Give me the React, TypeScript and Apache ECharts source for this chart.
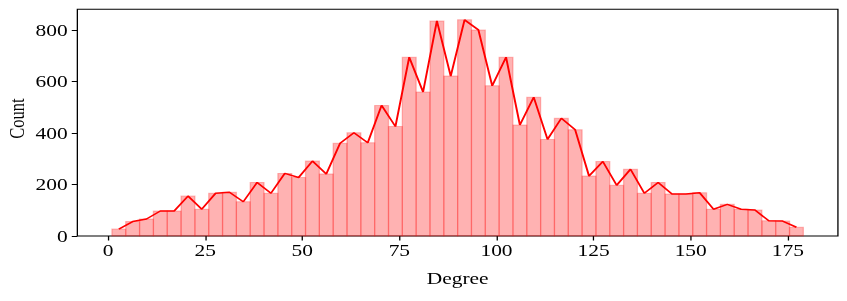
import React, { useEffect, useRef } from "react";
import * as echarts from "echarts";

// Histogram of degrees: 50 equal bins from 1 to 179
const binStart = 1;
const binEnd = 179;
const counts = [
  27, 56, 66, 97, 97, 155, 104, 166, 170, 133,
  208, 166, 243, 227, 291, 241, 360, 401, 362, 507,
  425, 694, 559, 835, 621, 839, 800, 583, 694, 431,
  539, 375, 457, 412, 233, 289, 197, 259, 166, 208,
  163, 163, 168, 104, 123, 104, 101, 59, 58, 34,
];
const xTicks = [0, 25, 50, 75, 100, 125, 150, 175];
const yTicks = [0, 200, 400, 600, 800];
const xLabel = "Degree";
const yLabel = "Count";

const STRETCH = 1.3;
const FULL_W = 847;
const H = 301;
const W = FULL_W / STRETCH;
const FONT = "'Liberation Serif', 'Times New Roman', serif";
const FS = 16.5;

export default function App() {
  const ref = useRef<HTMLDivElement>(null);
  useEffect(() => {
    if (!ref.current) return;
    document.body.style.margin = "0";
    const chart = echarts.init(ref.current, undefined, { renderer: "svg" });
    const n = counts.length;
    const bw = (binEnd - binStart) / n;
    const bins = counts.map((c, i) => [binStart + i * bw, binStart + (i + 1) * bw, c]);
    const line = counts.map((c, i) => [binStart + (i + 0.5) * bw, c]);
    const span = binEnd - binStart;
    chart.setOption({
      animation: false,
      grid: {
        left: 59.5,
        right: W - 644.1,
        top: 9.3,
        bottom: H - 236,
        containLabel: false,
        outerBoundsMode: "none",
        show: true,
        borderColor: "#000",
        borderWidth: 1,
        backgroundColor: "transparent",
      },
      xAxis: {
        type: "value",
        min: binStart - 0.05 * span,
        max: binEnd + 0.05 * span,
        splitLine: { show: false },
        axisLine: { show: false, onZero: false },
        axisTick: { show: true, inside: false, length: 4.5, lineStyle: { color: "#000", width: 1 }, customValues: xTicks },
        axisLabel: {
          customValues: xTicks,
          margin: 6,
          color: "#000",
          fontFamily: FONT,
          fontSize: FS,
        },
        name: xLabel,
        nameLocation: "middle",
        nameGap: 34,
        nameMoveOverlap: false,
        nameTextStyle: { color: "#000", fontFamily: FONT, fontSize: FS },
      },
      yAxis: {
        type: "value",
        min: 0,
        max: 880,
        splitLine: { show: false },
        axisLine: { show: false, onZero: false },
        axisTick: { show: true, inside: false, length: 4.3, lineStyle: { color: "#000", width: 1 }, customValues: yTicks },
        axisLabel: {
          customValues: yTicks,
          margin: 7.5,
          color: "#000",
          fontFamily: FONT,
          fontSize: FS,
        },
        name: yLabel,
        nameLocation: "middle",
        nameGap: 38,
        nameMoveOverlap: false,
        nameTextStyle: { color: "#000", fontFamily: FONT, fontSize: FS, padding: [0, 0, 0, 8] },
      },
      series: [
        {
          type: "custom",
          data: bins,
          renderItem: (params: any, api: any) => {
            const s = api.value(0);
            const e = api.value(1);
            const v = api.value(2);
            const p0 = api.coord([s, v]);
            const p1 = api.coord([e, 0]);
            return {
              type: "rect",
              shape: { x: p0[0], y: p0[1], width: p1[0] - p0[0], height: p1[1] - p0[1] },
              style: {
                fill: "rgba(255,0,0,0.3)",
                stroke: "rgba(255,0,0,0.25)",
                lineWidth: 1,
              },
            };
          },
          z: 1,
        },
        {
          type: "line",
          data: line,
          symbol: "none",
          lineStyle: { color: "#ff0000", width: 1.5 },
          itemStyle: { color: "#ff0000" },
          z: 3,
        },
      ],
    });
    return () => chart.dispose();
  }, []);
  return (
    <div
      ref={ref}
      style={{
        position: "fixed",
        left: 0,
        top: 0,
        width: W,
        height: H,
        transform: `scaleX(${STRETCH})`,
        transformOrigin: "0 0",
      }}
    />
  );
}
